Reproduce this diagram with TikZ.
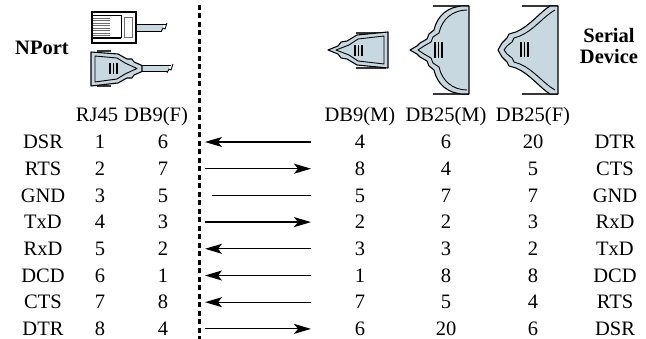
\documentclass[tikz,border=0pt]{standalone}
\usepackage{fontspec}
\setmainfont{Liberation Serif}
\usetikzlibrary{arrows.meta}
\definecolor{plug}{RGB}{200,216,224}
\definecolor{tabc}{RGB}{55,55,55}
\definecolor{stripe}{RGB}{110,110,110}
\tikzset{
  txt/.style={font=\fontsize{20.5}{24}\selectfont, inner sep=0pt, text height=13.6pt, text depth=0pt},
  btxt/.style={font=\fontsize{20.5}{24}\selectfont\bfseries, inner sep=0pt},
  arr/.style={line width=1.2pt, -{Stealth[length=17pt,width=10pt,inset=4pt]}},
  plainline/.style={line width=1.2pt},
  divider/.style={line width=3pt, dash pattern=on 5pt off 3.5pt},
  body/.style={fill=plug, draw=black, line width=1.1pt, line join=round},
  innerline/.style={draw=black, line width=0.9pt, line join=round},
  tabbar/.style={draw=tabc, line width=2.2pt},
  pinbar/.style={draw=black, line width=1.3pt},
}
\begin{document}
\begin{tikzpicture}[x=1pt,y=-1pt]
\useasboundingbox (0,0) rectangle (646,339);

% ---------- headings ----------
\node[btxt] (nport) at (42,48) {NPort};
\node[btxt, align=center] (serial) at (609,46) {Serial\\[-3pt]Device};

% ---------- RJ45 plug ----------
\fill[plug] (136,24) rectangle (163,31);
\draw[line width=0.8pt] (136,24) -- (166,24);
\draw[line width=0.8pt] (136,31) -- (162,31);
\draw[line width=0.8pt] (161,32) -- (163,28) -- (165,29) -- (167,23);
\draw[line width=1.1pt, fill=white] (92,12) rectangle (136,43);
\foreach \s in {18,20.5,...,36} \draw[stripe, line width=0.9pt] (93,\s) -- (110,\s);
\draw[line width=0.9pt] (92,15) -- (121,15) -- (121,38);
\draw[line width=1.6pt] (92,38) -- (121,38);
\draw[stripe, line width=0.9pt] (124,17) rectangle (132,37);

% ---------- DB9(F) plug ----------
\draw[tabbar] (97,51) -- (111,51);
\draw[tabbar] (97,86) -- (111,86);
\fill[plug] (140,65.5) rectangle (169,71.5);
\draw[line width=0.8pt] (140,65.5) -- (171,65.5);
\draw[line width=0.8pt] (140,71.5) -- (168,71.5);
\draw[line width=0.8pt] (167,73) -- (169,69) -- (171,70) -- (173,64);
\draw[body] (91,52) -- (118,54) -- (127,59) -- (132,59) -- (134,62) -- (142,65.5)
  -- (142,71.5) -- (134,75) -- (132,78) -- (127,78) -- (118,83) -- (91,86) -- cycle;
\draw[innerline] (95,56) -- (117,58) -- (125,63) -- (137,68.5) -- (125,74) -- (117,79) -- (95,82) -- cycle;
\foreach \b in {110,113.5,117} \draw[pinbar] (\b,63) -- (\b,74);

% ---------- DB9(M) ----------
\draw[tabbar] (356,33) -- (386,33);
\draw[tabbar] (356,68) -- (386,68);
\draw[body] (388,32) -- (357,35) -- (347,41) -- (341,42) -- (338,46) -- (328,50)
  -- (338,54) -- (341,58) -- (347,59) -- (357,65) -- (388,68) -- cycle;
\draw[innerline] (384,36) -- (358,39) -- (349,45) -- (336,50) -- (349,55) -- (358,61) -- (384,64) -- cycle;
\foreach \b in {355,358.5,362} \draw[pinbar] (\b,45) -- (\b,56);

% ---------- DB25(M) ----------
\draw[tabbar] (433,6) -- (469,6);
\draw[tabbar] (433,94) -- (469,94);
\draw[body] (469,6) -- (464,6) .. controls (448,6) and (437,16) .. (434,30)
  -- (429,34) -- (427,39) -- (420,43) -- (417,46) -- (410,50)
  -- (417,54) -- (420,57) -- (427,61) -- (429,66) -- (434,70)
  .. controls (437,84) and (448,94) .. (464,94) -- (469,94) -- cycle;
\draw[innerline] (467,10) .. controls (453,10) and (442,19) .. (439,33)
  -- (433,37) -- (431,42) -- (424,46) -- (418,50)
  -- (424,54) -- (431,58) -- (433,63) -- (439,67)
  .. controls (442,81) and (453,90) .. (467,90);
\foreach \b in {435,438.5,442} \draw[pinbar] (\b,42) -- (\b,58);

% ---------- DB25(F) ----------
\draw[tabbar] (522,6) -- (558,6);
\draw[tabbar] (522,94) -- (558,94);
\draw[body] (558,6) -- (550,6) .. controls (540,12) and (530,26) .. (516,32)
  -- (509,34) -- (507,38) -- (502,43) -- (498,50)
  -- (502,57) -- (507,62) -- (509,66) -- (516,68)
  .. controls (530,74) and (540,88) .. (550,94) -- (558,94) -- cycle;
\draw[innerline] (555,10) .. controls (544,16) and (534,30) .. (520,36)
  -- (514,38) -- (512,42) -- (507,46) -- (504,50)
  -- (507,54) -- (512,58) -- (514,62) -- (520,64)
  .. controls (534,70) and (544,84) .. (555,90);
\foreach \b in {521,524.5,528} \draw[pinbar] (\b,42) -- (\b,57);

% ---------- column headings ----------
\node[txt] (hrj) at (97,115) {RJ45};
\node[txt] (hdf) at (156,115) {DB9(F)};
\node[txt] (hdm) at (360,115) {DB9(M)};
\node[txt] (hbm) at (446,115) {DB25(M)};
\node[txt] (hbf) at (533,115) {DB25(F)};

% ---------- divider ----------
\coordinate (dtop) at (199,5);
\coordinate (dbot) at (199,340);
\draw[divider] (dtop) -- (dbot);

% ---------- rows ----------
\foreach \i/\lab/\rj/\df/\dm/\dbm/\dbf/\rlab in {
  1/DSR/1/6/4/6/20/DTR, 2/RTS/2/7/8/4/5/CTS, 3/GND/3/5/5/7/7/GND,
  4/TxD/4/3/2/2/3/RxD, 5/RxD/5/2/3/3/2/TxD, 6/DCD/6/1/1/8/8/DCD,
  7/CTS/7/8/7/5/4/RTS, 8/DTR/8/4/6/20/6/DSR} {
  \pgfmathsetmacro\yy{142+26.7*(\i-1)}
  \node[txt] (l\i) at (43,\yy) {\lab};
  \node[txt] (rj\i) at (100,\yy) {\rj};
  \node[txt] (f\i) at (163,\yy) {\df};
  \node[txt] (m\i) at (360,\yy) {\dm};
  \node[txt] (bm\i) at (446,\yy) {\dbm};
  \node[txt] (bf\i) at (533,\yy) {\dbf};
  \node[txt] (r\i) at (615,\yy) {\rlab};
  \coordinate (aL\i) at (205,\yy);
  \coordinate (aR\i) at (311,\yy);
}

% ---------- signal arrows ----------
\draw[arr] (aR1) -- (aL1);
\draw[arr] (aL2) -- (aR2);
\draw[plainline, shorten <=7pt] (aL3) -- (aR3);
\draw[arr] (aL4) -- (aR4);
\draw[arr] (aR5) -- (aL5);
\draw[arr] (aR6) -- (aL6);
\draw[arr] (aR7) -- (aL7);
\draw[arr] (aL8) -- (aR8);
\end{tikzpicture}
\end{document}
